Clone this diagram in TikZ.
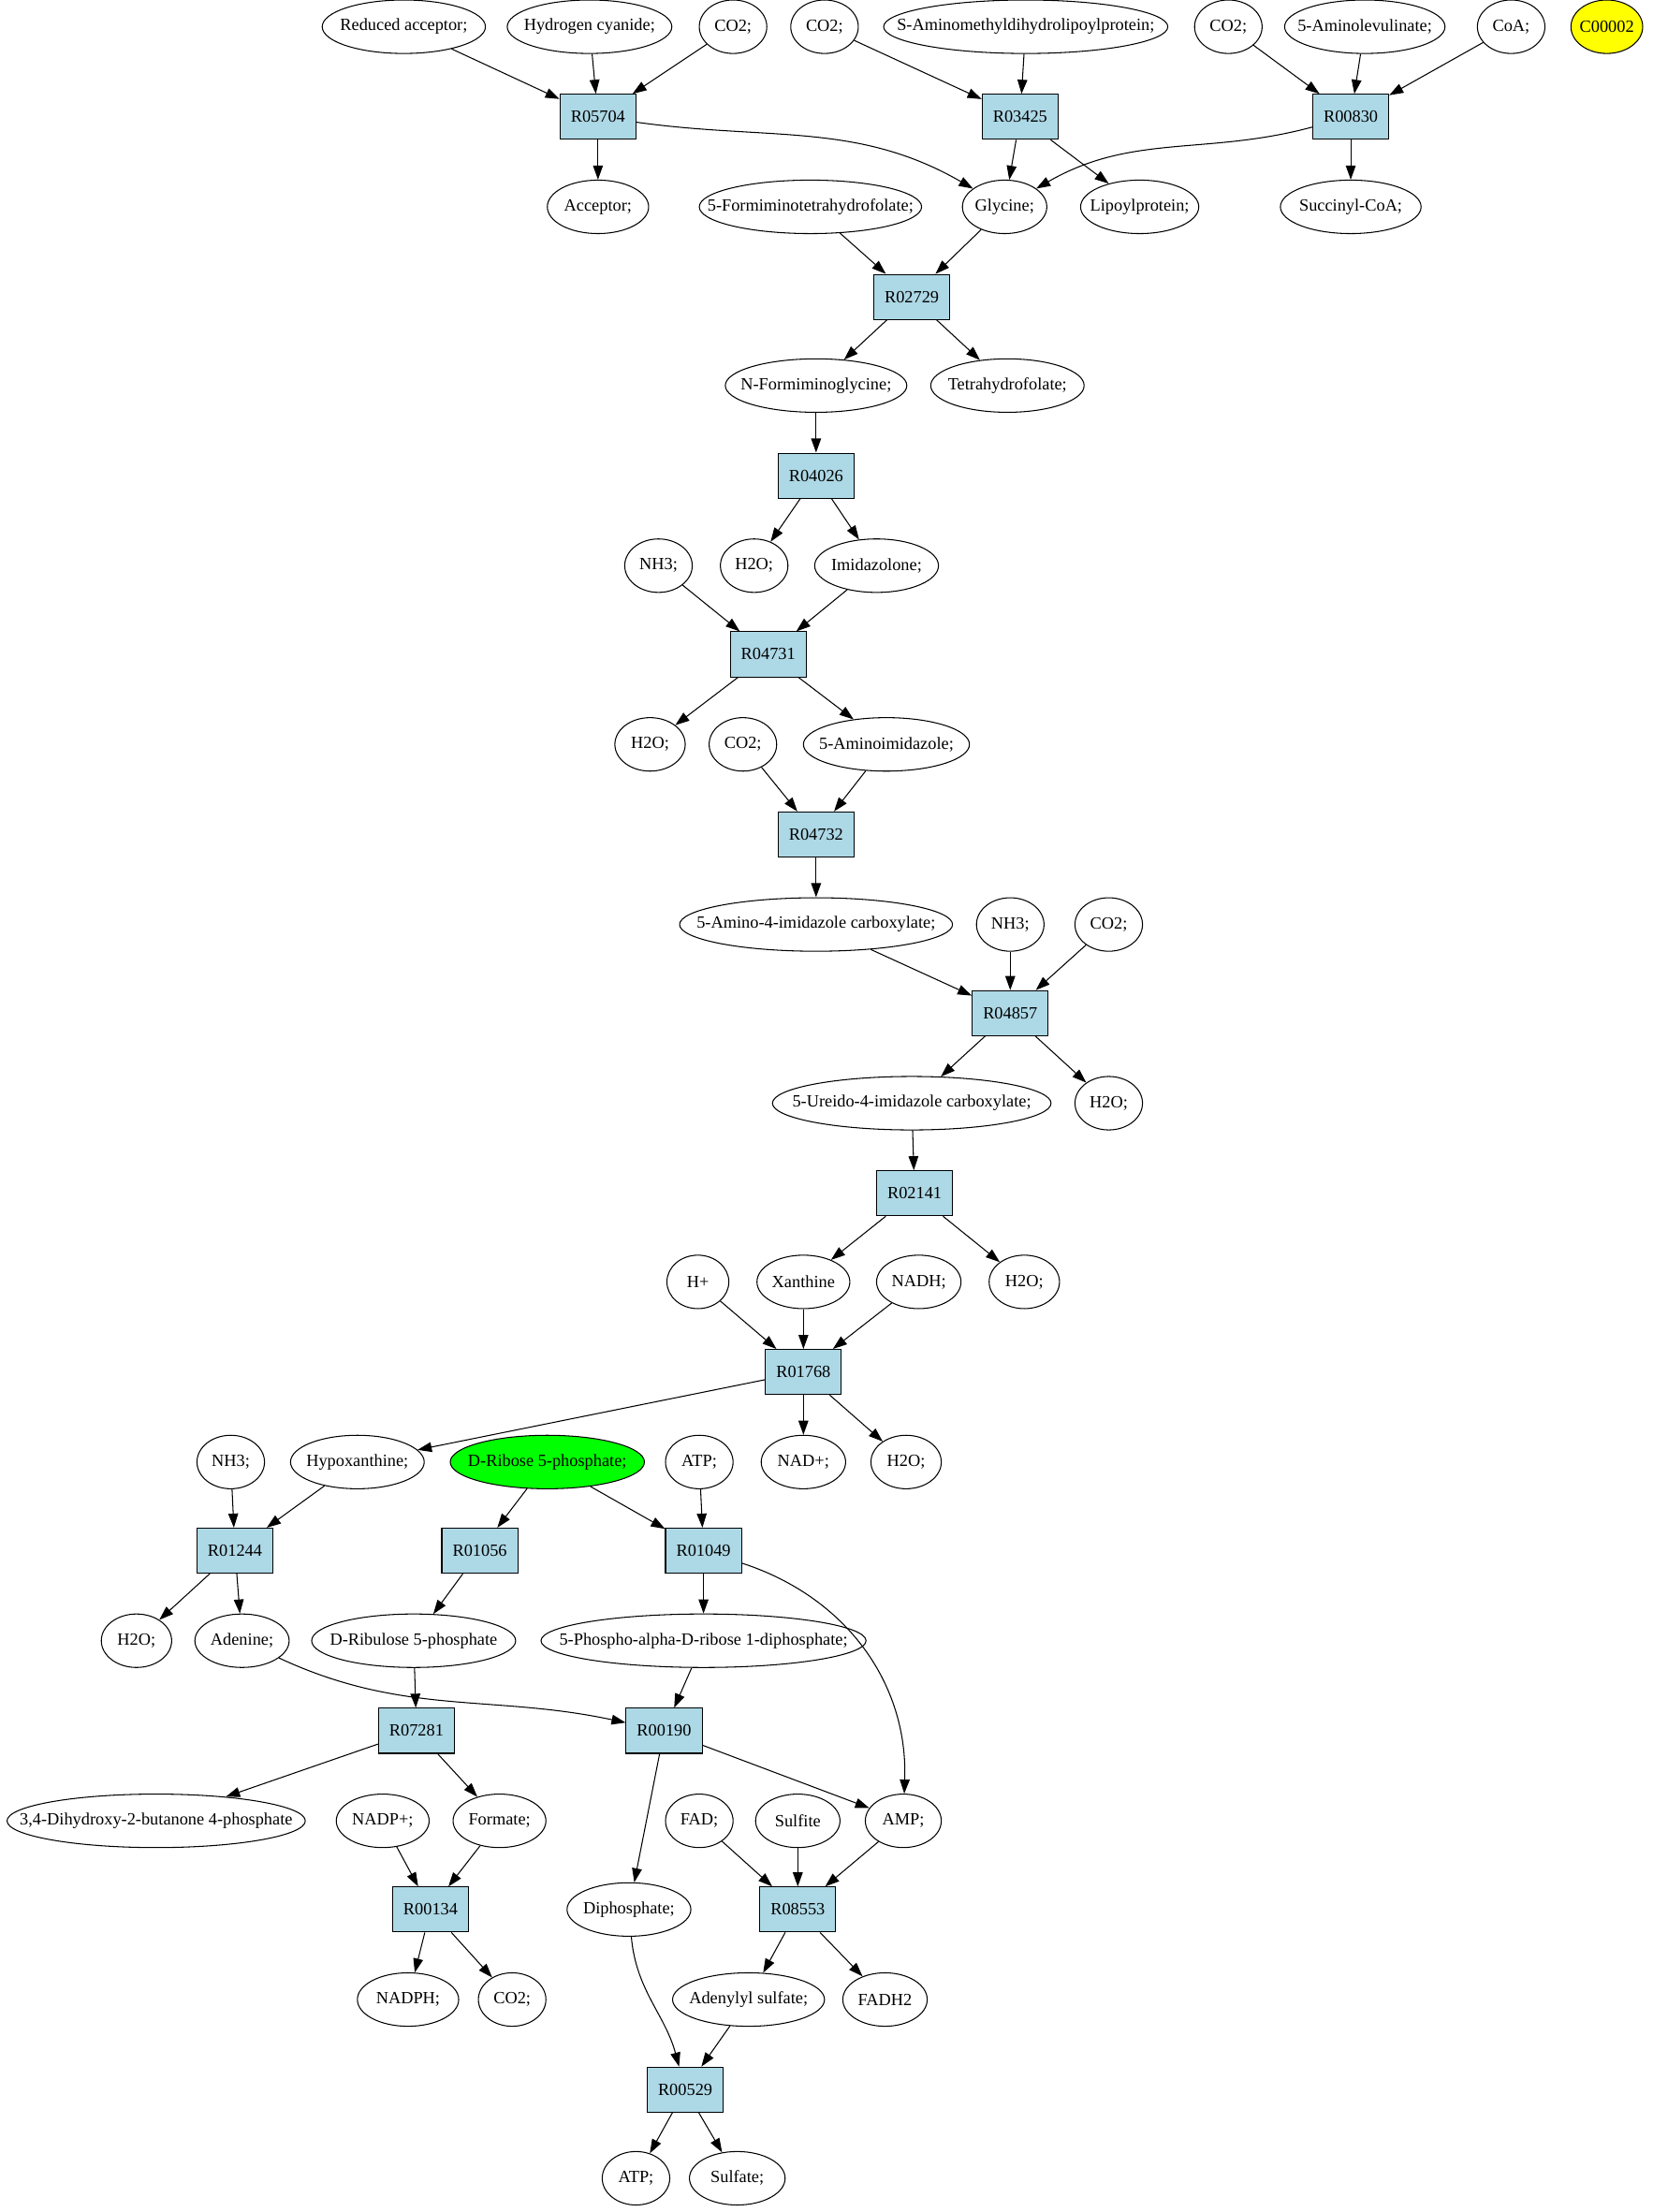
\documentclass[tikz,border=0pt]{standalone}
\usepackage{fontspec}
\setmainfont{Liberation Serif}
\usepackage{tikz}
\usetikzlibrary{shapes.geometric,arrows.meta}
\definecolor{rxnblue}{HTML}{ADD8E6}
\definecolor{startgreen}{HTML}{00FF00}
\definecolor{goalyellow}{HTML}{FFFF00}
\tikzset{
    comp/.style={ellipse, draw, line width=0.7pt, minimum height=38pt, minimum width=#1, inner sep=0pt},
    comp/.default=48pt,
    rxn/.style={rectangle, draw, line width=0.7pt, fill=rxnblue, minimum width=54pt, minimum height=32pt, inner sep=0pt},
    flow/.style={-{Triangle[length=10pt,width=7pt]}, line width=0.7pt}
}
\newcommand{\cname}[1]{\makebox[0pt]{#1}}

\begin{document}
\begin{tikzpicture}[x=1pt,y=-1pt,font=\fontsize{12.2}{14}\selectfont]
    \useasboundingbox (0,0) rectangle (1185,1572);
    % top substrates
    \node[comp=116pt] (redacc) at (287,19) {\cname{Reduced acceptor;}};
    \node[comp=117pt] (hcn) at (419,19) {\cname{Hydrogen cyanide;}};
    \node[comp] (co2a) at (521,19) {\cname{CO2;}};
    \node[comp] (co2b) at (586,19) {\cname{CO2;}};
    \node[comp=202pt] (samdl) at (729,19) {\cname{S-Aminomethyldihydrolipoylprotein;}};
    \node[comp] (co2c) at (873,19) {\cname{CO2;}};
    \node[comp=114pt] (alev) at (970,19) {\cname{5-Aminolevulinate;}};
    \node[comp] (coa) at (1074,19) {\cname{CoA;}};
    \node[comp=51pt,fill=goalyellow] (c00002) at (1142,19) {\cname{C00002}};
    \node[rxn] (r05704) at (425,83) {R05704};
    \node[rxn] (r03425) at (725,83) {R03425};
    \node[rxn] (r00830) at (960,83) {R00830};
    \node[comp=72pt] (acceptor) at (425,147) {\cname{Acceptor;}};
    \node[comp=158pt] (formthf) at (576,147) {\cname{5-Formiminotetrahydrofolate;}};
    \node[comp=60pt] (glycine) at (714,147) {\cname{Glycine;}};
    \node[comp=84pt] (lipoyl) at (810,147) {\cname{Lipoylprotein;}};
    \node[comp=100pt] (succoa) at (960,147) {\cname{Succinyl-CoA;}};
    \path[flow] (redacc) edge (r05704);
    \path[flow] (hcn) edge (r05704);
    \path[flow] (co2a) edge (r05704);
    \path[flow] (co2b) edge (r03425);
    \path[flow] (samdl) edge (r03425);
    \path[flow] (co2c) edge (r00830);
    \path[flow] (alev) edge (r00830);
    \path[flow] (coa) edge (r00830);
    \path[flow] (r05704) edge (acceptor);
    \path[flow] (r05704) edge[out=-8,in=150] (glycine);
    \path[flow] (r03425) edge (glycine);
    \path[flow] (r03425) edge (lipoyl);
    \path[flow] (r00830) edge[out=195,in=30] (glycine);
    \path[flow] (r00830) edge (succoa);
    % glycine down to aminoimidazole
    \node[rxn] (r02729) at (648,211) {R02729};
    \node[comp=129pt] (nfgly) at (580,274) {\cname{N-Formiminoglycine;}};
    \node[comp=109pt] (thf) at (716,274) {\cname{Tetrahydrofolate;}};
    \node[rxn] (r04026) at (580,338) {R04026};
    \node[comp] (nh3a) at (468,402) {\cname{NH3;}};
    \node[comp] (h2oa) at (536,402) {\cname{H2O;}};
    \node[comp=88pt] (imidaz) at (623,402) {\cname{Imidazolone;}};
    \node[rxn] (r04731) at (546,465) {R04731};
    \node[comp=50pt] (h2ob) at (462,529) {\cname{H2O;}};
    \node[comp] (co2d) at (528,529) {\cname{CO2;}};
    \node[comp=118pt] (aimid) at (630,529) {\cname{5-Aminoimidazole;}};
    \node[rxn] (r04732) at (580,593) {R04732};
    \path[flow] (formthf) edge (r02729);
    \path[flow] (glycine) edge (r02729);
    \path[flow] (r02729) edge (nfgly);
    \path[flow] (r02729) edge (thf);
    \path[flow] (nfgly) edge (r04026);
    \path[flow] (r04026) edge (h2oa);
    \path[flow] (r04026) edge (imidaz);
    \path[flow] (nh3a) edge (r04731);
    \path[flow] (imidaz) edge (r04731);
    \path[flow] (r04731) edge (h2ob);
    \path[flow] (r04731) edge (aimid);
    \path[flow] (co2d) edge (r04732);
    \path[flow] (aimid) edge (r04732);
    % carboxylates to xanthine
    \node[comp=194pt] (aicarb) at (580,657) {\cname{5-Amino-4-imidazole carboxylate;}};
    \node[comp] (nh3b) at (718,657) {\cname{NH3;}};
    \node[comp] (co2e) at (788,657) {\cname{CO2;}};
    \node[rxn] (r04857) at (718,720) {R04857};
    \node[comp=198pt] (uicarb) at (648,784) {\cname{5-Ureido-4-imidazole carboxylate;}};
    \node[comp] (h2oc) at (788,784) {\cname{H2O;}};
    \node[rxn] (r02141) at (650,848) {R02141};
    \node[comp=44pt] (hplus) at (496,911) {\cname{H+}};
    \node[comp=66pt] (xanth) at (571,911) {\cname{Xanthine}};
    \node[comp=60pt] (nadh) at (653,911) {\cname{NADH;}};
    \node[comp=50pt] (h2od) at (728,911) {\cname{H2O;}};
    \node[rxn] (r01768) at (571,975) {R01768};
    \path[flow] (r04732) edge (aicarb);
    \path[flow] (aicarb) edge (r04857);
    \path[flow] (nh3b) edge (r04857);
    \path[flow] (co2e) edge (r04857);
    \path[flow] (r04857) edge (uicarb);
    \path[flow] (r04857) edge (h2oc);
    \path[flow] (uicarb) edge (r02141);
    \path[flow] (r02141) edge (xanth);
    \path[flow] (r02141) edge (h2od);
    \path[flow] (hplus) edge (r01768);
    \path[flow] (xanth) edge (r01768);
    \path[flow] (nadh) edge (r01768);
    % purine salvage and ribose branch
    \node[comp] (nh3c) at (164,1039) {\cname{NH3;}};
    \node[comp=95pt] (hypox) at (254,1039) {\cname{Hypoxanthine;}};
    \node[comp=138pt,fill=startgreen] (drib) at (389,1039) {\cname{D-Ribose 5-phosphate;}};
    \node[comp] (atpa) at (497,1039) {\cname{ATP;}};
    \node[comp=60pt] (nadplus) at (571,1039) {\cname{NAD+;}};
    \node[comp=50pt] (h2oe) at (644,1039) {\cname{H2O;}};
    \node[rxn] (r01244) at (167,1102) {R01244};
    \node[rxn] (r01056) at (341,1102) {R01056};
    \node[rxn] (r01049) at (500,1102) {R01049};
    \node[comp=50pt] (h2of) at (97,1166) {\cname{H2O;}};
    \node[comp=67pt] (adenine) at (172,1166) {\cname{Adenine;}};
    \node[comp=145pt] (drul) at (294,1166) {\cname{D-Ribulose 5-phosphate}};
    \node[comp=231pt] (prpp) at (500,1166) {\cname{5-Phospho-alpha-D-ribose 1-diphosphate;}};
    \node[rxn] (r07281) at (296,1230) {R07281};
    \node[rxn] (r00190) at (472,1230) {R00190};
    \path[flow] (r01768) edge (hypox);
    \path[flow] (r01768) edge (nadplus);
    \path[flow] (r01768) edge (h2oe);
    \path[flow] (nh3c) edge (r01244);
    \path[flow] (hypox) edge (r01244);
    \path[flow] (drib) edge (r01056);
    \path[flow] (drib) edge (r01049);
    \path[flow] (atpa) edge (r01049);
    \path[flow] (r01244) edge (h2of);
    \path[flow] (r01244) edge (adenine);
    \path[flow] (r01056) edge (drul);
    \path[flow] (r01049) edge (prpp);
    \path[flow] (drul) edge (r07281);
    \path[flow] (adenine) edge[out=-25,in=168] (r00190);
    \path[flow] (prpp) edge (r00190);
    % bottom rows
    \node[comp=212pt] (dhbp) at (111,1294) {\cname{3,4-Dihydroxy-2-butanone 4-phosphate}};
    \node[comp=66pt] (nadpplus) at (272,1294) {\cname{NADP+;}};
    \node[comp=66pt] (formate) at (355,1294) {\cname{Formate;}};
    \node[comp] (fad) at (497,1294) {\cname{FAD;}};
    \node[comp=60pt] (sulfite) at (567,1294) {\cname{Sulfite}};
    \node[comp=54pt] (amp) at (642,1294) {\cname{AMP;}};
    \node[rxn] (r00134) at (306,1357) {R00134};
    \node[comp=88pt] (diphos) at (447,1357) {\cname{Diphosphate;}};
    \node[rxn] (r08553) at (567,1357) {R08553};
    \node[comp=72pt] (nadph) at (290,1421) {\cname{NADPH;}};
    \node[comp] (co2f) at (364,1421) {\cname{CO2;}};
    \node[comp=108pt] (adenylyl) at (532,1421) {\cname{Adenylyl sulfate;}};
    \node[comp=60pt] (fadh2) at (629,1421) {\cname{FADH2}};
    \node[rxn] (r00529) at (487,1485) {R00529};
    \node[comp] (atpb) at (452,1548) {\cname{ATP;}};
    \node[comp=68pt] (sulfate) at (524,1548) {\cname{Sulfate;}};
    \path[flow] (r01049) edge[out=-18,in=88] (amp);
    \path[flow] (r07281) edge (dhbp);
    \path[flow] (r07281) edge (formate);
    \path[flow] (r00190) edge (amp);
    \path[flow] (r00190) edge (diphos);
    \path[flow] (nadpplus) edge (r00134);
    \path[flow] (formate) edge (r00134);
    \path[flow] (fad) edge (r08553);
    \path[flow] (sulfite) edge (r08553);
    \path[flow] (amp) edge (r08553);
    \path[flow] (r00134) edge (nadph);
    \path[flow] (r00134) edge (co2f);
    \path[flow] (r08553) edge (adenylyl);
    \path[flow] (r08553) edge (fadh2);
    \path[flow] (diphos) edge[out=-85,in=105] (r00529);
    \path[flow] (adenylyl) edge (r00529);
    \path[flow] (r00529) edge (atpb);
    \path[flow] (r00529) edge (sulfate);
\end{tikzpicture}
\end{document}
